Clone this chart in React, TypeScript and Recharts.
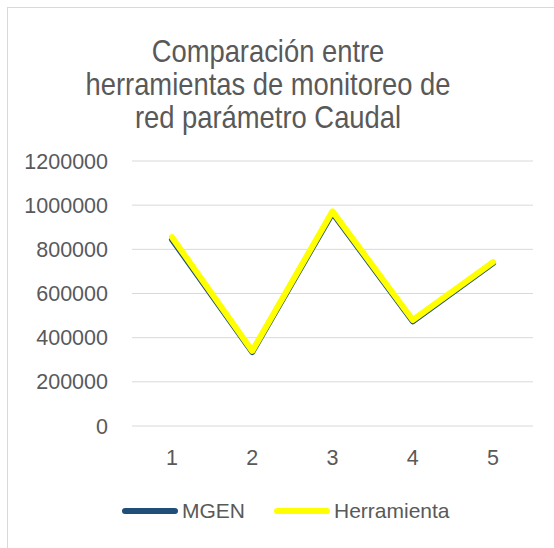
import React from "react";
import { LineChart, Line, XAxis, YAxis, CartesianGrid, Legend } from "recharts";

const categories = ["1", "2", "3", "4", "5"];
const mgenValues = [845000, 335000, 965000, 474000, 738000];
const herramientaValues = [855000, 340000, 972000, 480000, 742000];
const yTicks = [0, 200000, 400000, 600000, 800000, 1000000, 1200000];
const titleLines = ["Comparación entre", "herramientas de monitoreo de", "red parámetro Caudal"];
const seriesOrder = ["MGEN", "Herramienta"];

const data = categories.map((c, i) => ({
  x: c,
  MGEN: mgenValues[i],
  Herramienta: herramientaValues[i],
}));

const TEXT = "#595959";
const FONT = "'Liberation Sans', Arial, sans-serif";

const LegendContent = (props: any) => {
  const payload = [...(props.payload || [])].sort(
    (a: any, b: any) => seriesOrder.indexOf(a.value) - seriesOrder.indexOf(b.value)
  );
  return (
    <div style={{ display: "flex", alignItems: "center", paddingLeft: 121, height: 30 }}>
      {payload.map((p: any, i: number) => (
        <div key={i} style={{ display: "flex", alignItems: "center", marginRight: 28 }}>
          <svg width={58} height={8} style={{ display: "block" }}>
            <line x1={4} y1={4} x2={54} y2={4} stroke={p.color} strokeWidth={6} strokeLinecap="round" />
          </svg>
          <span style={{ fontFamily: FONT, fontSize: 21, color: TEXT, marginLeft: 3, lineHeight: "30px" }}>
            {p.value}
          </span>
        </div>
      ))}
    </div>
  );
};

export default function App() {
  return (
    <div style={{ position: "absolute", left: 0, top: 0, width: 554, height: 548, overflow: "hidden", background: "#fff" }}>
      <div
        style={{
          position: "absolute",
          left: 7,
          top: 7,
          width: 580,
          height: 580,
          border: "1px solid #d9d9d9",
        }}
      />
      <div
        style={{
          position: "absolute",
          left: 0,
          top: 35,
          width: 536,
          textAlign: "center",
          fontFamily: FONT,
          fontSize: 32,
          lineHeight: "33px",
          color: TEXT,
          transform: "scaleX(0.855)",
          transformOrigin: "268px 0px",
        }}
      >
        {titleLines.map((t, i) => (
          <div key={i}>{t}</div>
        ))}
      </div>
      <div style={{ position: "absolute", left: 0, top: 0 }}>
        <LineChart width={554} height={548} data={data} margin={{ top: 161, right: 21, bottom: 92, left: 22 }}>
          <CartesianGrid vertical={false} stroke="#d9d9d9" strokeWidth={1} />
          <XAxis
            dataKey="x"
            height={30}
            axisLine={false}
            tickLine={false}
            tickSize={6}
            tickMargin={18}
            padding={{ left: 40, right: 40 }}
            tick={{ fill: TEXT, fontSize: 21.5, fontFamily: FONT }}
          />
          <YAxis
            width={110}
            domain={[0, 1200000]}
            ticks={yTicks}
            interval={0}
            axisLine={false}
            tickLine={false}
            tickSize={6}
            tickMargin={18}
            tick={{ fill: TEXT, fontSize: 21.5, fontFamily: FONT }}
          />
          <Legend
            layout="horizontal"
            verticalAlign="middle"
            align="center"
            content={<LegendContent />}
            wrapperStyle={{ position: "absolute", top: 496, left: 0, width: 554, height: 30 }}
          />
          <Line
            type="linear"
            dataKey="MGEN"
            stroke="#1F4E79"
            strokeWidth={6}
            strokeLinejoin="round"
            strokeLinecap="round"
            dot={false}
            activeDot={false}
            isAnimationActive={false}
          />
          <Line
            type="linear"
            dataKey="Herramienta"
            stroke="#FFFF00"
            strokeWidth={6}
            strokeLinejoin="round"
            strokeLinecap="round"
            dot={false}
            activeDot={false}
            isAnimationActive={false}
          />
        </LineChart>
      </div>
    </div>
  );
}
